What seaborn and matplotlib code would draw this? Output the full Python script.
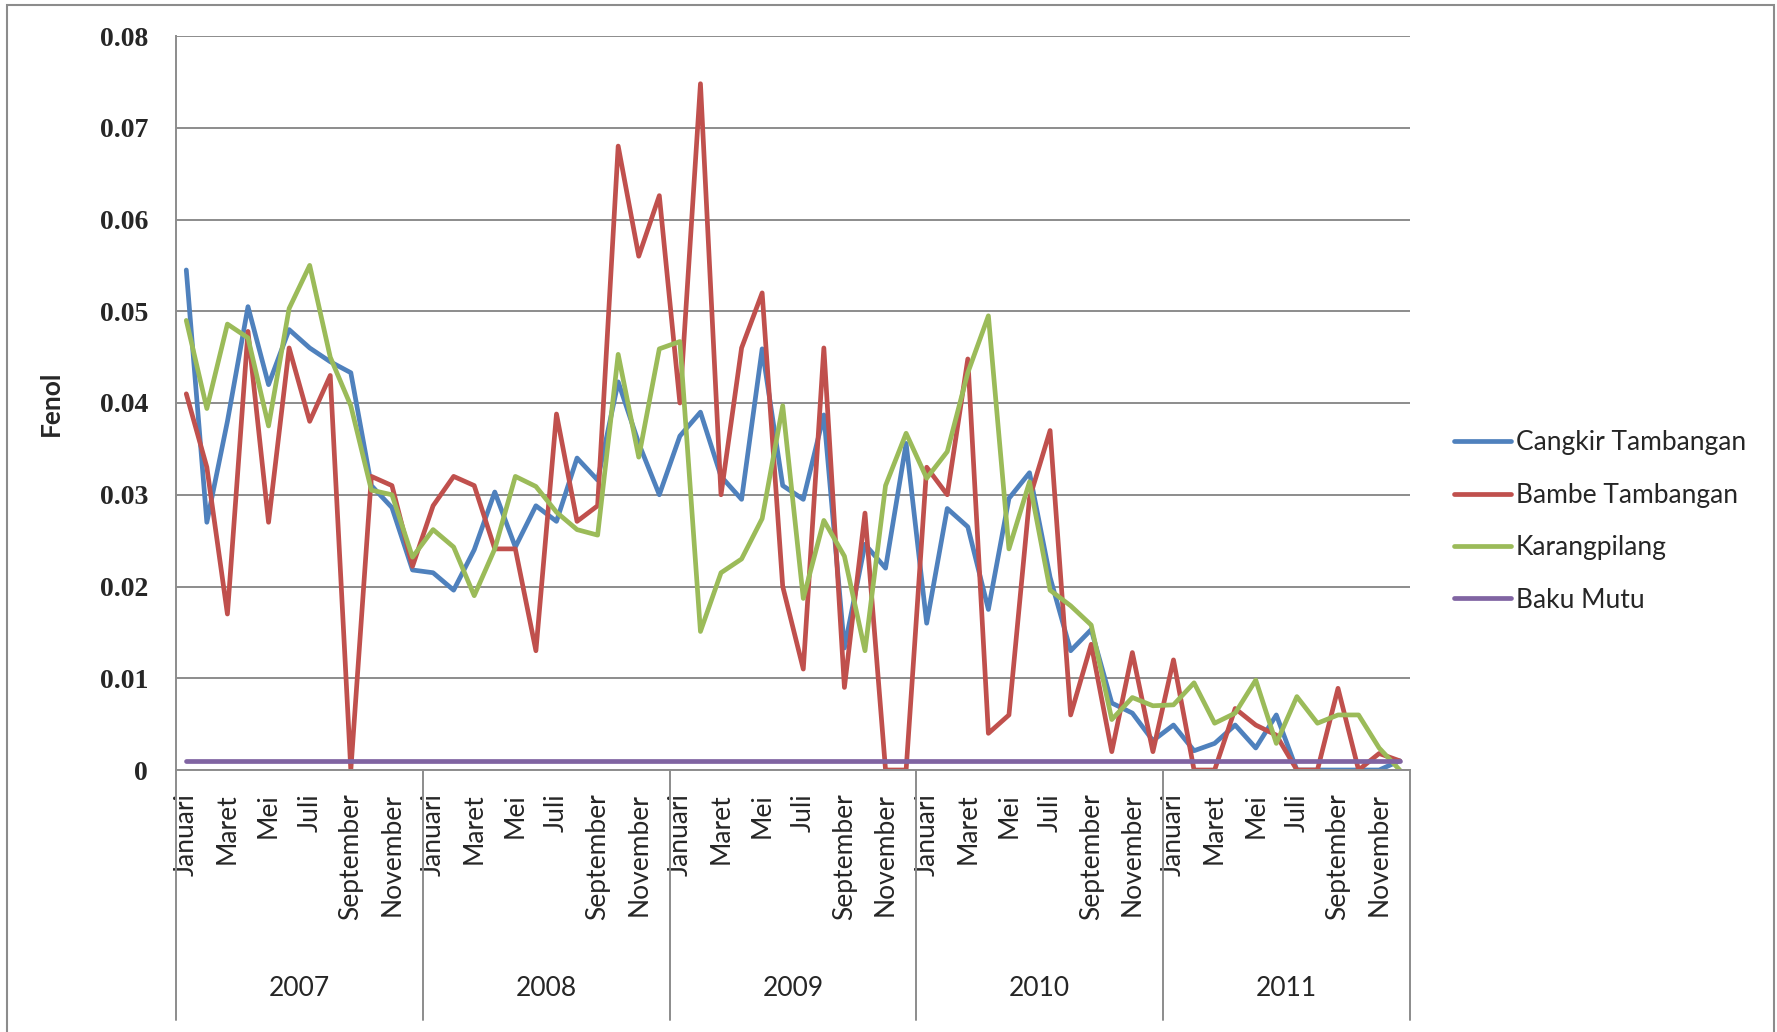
import numpy as np
import pandas as pd
import matplotlib
matplotlib.use("Agg")
import matplotlib.pyplot as plt
import matplotlib.transforms as mtransforms
from matplotlib.patches import Rectangle
import seaborn as sns

# ---- data -------------------------------------------------------------
years = ["2007", "2008", "2009", "2010", "2011"]
months = ["Januari", "Februari", "Maret", "April", "Mei", "Juni", "Juli",
          "Agustus", "September", "Oktober", "November", "Desember"]

cangkir_tambangan = [
    0.0545, 0.0270, 0.0380, 0.0505, 0.0420, 0.0480, 0.0460, 0.0445, 0.0433, 0.0310, 0.0286, 0.0218,
    0.0215, 0.0196, 0.0240, 0.0303, 0.0243, 0.0288, 0.0271, 0.0340, 0.0316, 0.0423, 0.0356, 0.0300,
    0.0364, 0.0390, 0.0320, 0.0295, 0.0459, 0.0310, 0.0295, 0.0387, 0.0133, 0.0246, 0.0220, 0.0356,
    0.0160, 0.0285, 0.0265, 0.0175, 0.0296, 0.0324, 0.0210, 0.0130, 0.0153, 0.0073, 0.0062, 0.0032,
    0.0049, 0.0021, 0.0029, 0.0049, 0.0024, 0.0060, 0.0000, 0.0000, 0.0000, 0.0000, 0.0000, 0.0010,
]
bambe_tambangan = [
    0.0410, 0.0330, 0.0170, 0.0478, 0.0270, 0.0460, 0.0380, 0.0430, 0.0000, 0.0320, 0.0310, 0.0222,
    0.0288, 0.0320, 0.0310, 0.0241, 0.0241, 0.0130, 0.0388, 0.0271, 0.0288, 0.0680, 0.0560, 0.0626,
    0.0400, 0.0748, 0.0300, 0.0460, 0.0520, 0.0200, 0.0110, 0.0460, 0.0090, 0.0280, 0.0000, 0.0000,
    0.0330, 0.0300, 0.0448, 0.0040, 0.0060, 0.0296, 0.0370, 0.0060, 0.0137, 0.0020, 0.0128, 0.0020,
    0.0120, 0.0000, 0.0000, 0.0067, 0.0049, 0.0038, 0.0000, 0.0000, 0.0089, 0.0000, 0.0018, 0.0010,
]
karangpilang = [
    0.0490, 0.0394, 0.0486, 0.0471, 0.0375, 0.0503, 0.0550, 0.0450, 0.0397, 0.0305, 0.0300, 0.0232,
    0.0262, 0.0243, 0.0190, 0.0241, 0.0320, 0.0309, 0.0281, 0.0262, 0.0256, 0.0453, 0.0341, 0.0459,
    0.0467, 0.0151, 0.0215, 0.0230, 0.0274, 0.0397, 0.0187, 0.0272, 0.0233, 0.0130, 0.0310, 0.0367,
    0.0318, 0.0347, 0.0433, 0.0495, 0.0241, 0.0314, 0.0196, 0.0179, 0.0158, 0.0055, 0.0079, 0.0070,
    0.0071, 0.0095, 0.0051, 0.0062, 0.0098, 0.0029, 0.0080, 0.0051, 0.0060, 0.0060, 0.0024, 0.0000,
]
baku_mutu = [0.001] * 60

series_names = ["Cangkir Tambangan", "Bambe Tambangan", "Karangpilang", "Baku Mutu"]
series_values = [cangkir_tambangan, bambe_tambangan, karangpilang, baku_mutu]
palette = ["#4F81BD", "#C0504D", "#9BBB59", "#8064A2"]

n_months = len(years) * len(months)
rows = []
for name, vals in zip(series_names, series_values):
    for i, v in enumerate(vals):
        rows.append({"idx": i, "Fenol": v, "Lokasi": name})
df = pd.DataFrame(rows)

# ---- style ------------------------------------------------------------
sns.set_style("white")
plt.rcParams["font.family"] = ["Lato", "DejaVu Sans"]
GRID = "#8C8C8C"
FS = 19

fig = plt.figure(figsize=(17.77, 10.32), dpi=100)
ax = fig.add_axes([176 / 1777, 1 - 770 / 1032, (1410 - 176) / 1777, (770 - 36) / 1032])

sns.lineplot(data=df, x="idx", y="Fenol", hue="Lokasi", hue_order=series_names,
             palette=palette, linewidth=3.4, ax=ax, sort=False)

ax.set_xlim(-0.5, n_months - 0.5)
ax.set_ylim(0, 0.08)
ax.set_yticks(np.arange(0, 0.081, 0.01))
ax.set_yticklabels(["0"] + [f"{v:.2f}" for v in np.arange(0.01, 0.081, 0.01)],
                   family=["Liberation Serif", "DejaVu Serif"], fontsize=20, fontweight="bold")
ax.yaxis.grid(True, color=GRID, linewidth=1.4)
ax.set_axisbelow(True)
ax.tick_params(axis="y", length=0, pad=20)

# month labels every other month
tick_pos = list(range(0, n_months, 2))
tick_lab = [months[p % 12] for p in tick_pos]
ax.set_xticks(tick_pos)
ax.set_xticklabels(tick_lab, rotation=90, fontsize=FS, va="top", ha="center")
ax.tick_params(axis="x", length=0, pad=17)
ax.set_xlabel("")

ax.set_ylabel("Fenol", fontsize=FS, fontweight="bold")
ax.yaxis.set_label_coords(-0.092, 0.5)

for side in ["top", "right"]:
    ax.spines[side].set_visible(False)
for side in ["left", "bottom"]:
    ax.spines[side].set_color(GRID)
    ax.spines[side].set_linewidth(1.4)

# year groups below the month labels
trans = mtransforms.blended_transform_factory(ax.transData, ax.transAxes)
for k in range(len(years) + 1):
    ax.plot([k * 12 - 0.5, k * 12 - 0.5], [0, -0.341], transform=trans,
            color=GRID, linewidth=1.4, clip_on=False)
for k, yr in enumerate(years):
    ax.text(k * 12 + 5.5, -0.298, yr, transform=trans, ha="center", va="center",
            fontsize=FS)

# legend on the right
handles, labels = ax.get_legend_handles_labels()
ax.legend(handles, labels, loc="center left",
          bbox_to_anchor=(1454 / 1777, 1 - 521.5 / 1032), bbox_transform=fig.transFigure,
          frameon=False, fontsize=FS, handlelength=2.15, handletextpad=0.2,
          labelspacing=1.04, borderpad=0, borderaxespad=0)
for line in ax.get_legend().get_lines():
    line.set_linewidth(3.4)

# chart frame
fig.patches.append(Rectangle((7 / 1777, -0.02), (1774 - 7) / 1777, 1.02 - 5 / 1032,
                             transform=fig.transFigure, fill=False,
                             edgecolor=GRID, linewidth=1.5))

fig.savefig("out.png", dpi=100)
